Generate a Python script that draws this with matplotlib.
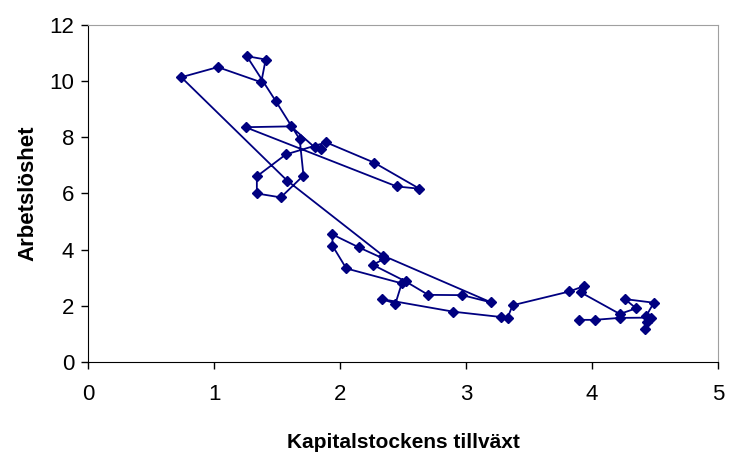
import matplotlib.pyplot as plt

plt.rcParams['font.family'] = ['Liberation Sans', 'DejaVu Sans']

# Kapitalstockens tillväxt (x) och arbetslöshet (y), i tidsordning
kapital = [3.90, 4.02, 4.22, 4.47, 4.44, 4.42, 4.43, 4.49, 4.26, 4.35,
           4.22, 3.91, 3.94, 3.82, 3.37, 3.33, 3.28, 2.90, 2.33, 2.44,
           2.49, 2.05, 1.94, 1.94, 2.15, 2.35, 2.26, 2.52, 2.70, 2.97,
           3.20, 2.34, 1.58, 0.74, 1.03, 1.375, 1.41, 1.26, 1.49, 1.68,
           1.71, 1.53, 1.34, 1.34, 1.57, 1.89, 2.27, 2.63, 2.45, 1.25,
           1.61, 1.80, 1.85]
arbetsloshet = [1.50, 1.50, 1.57, 1.58, 1.43, 1.17, 1.64, 2.11, 2.24, 1.91,
                1.71, 2.48, 2.71, 2.51, 2.02, 1.58, 1.60, 1.79, 2.24, 2.08,
                2.80, 3.33, 4.14, 4.54, 4.08, 3.67, 3.46, 2.87, 2.39, 2.38,
                2.12, 3.79, 6.46, 10.14, 10.50, 9.96, 10.77, 10.89, 9.29, 7.93,
                6.64, 5.86, 6.00, 6.61, 7.39, 7.82, 7.10, 6.17, 6.25, 8.36,
                8.39, 7.64, 7.57]

fig = plt.figure(figsize=(7.29, 4.61), dpi=100)
ax = fig.add_axes([0.1207, 0.2148, 0.8643, 0.7310])

ax.plot(kapital, arbetsloshet, color='#000080', linewidth=1.3,
        marker='D', markersize=5, markerfacecolor='#000080',
        markeredgecolor='#000080')

ax.set_xlim(0, 5)
ax.set_ylim(0, 12)
ax.set_xticks([0, 1, 2, 3, 4, 5])
ax.set_yticks([0, 2, 4, 6, 8, 10, 12])
ax.tick_params(direction='out', length=5, width=1, labelsize=16, pad=11)
ax.tick_params(axis='y', pad=5)

for s in ['top', 'right']:
    ax.spines[s].set_color('#a0a0a0')
for s in ['left', 'bottom']:
    ax.spines[s].set_color('black')

ax.set_xlabel('Kapitalstockens tillväxt', fontsize=15, fontweight='bold', labelpad=20)
ax.set_ylabel('Arbetslöshet', fontsize=16, fontweight='bold', labelpad=8)

fig.savefig('out.png', dpi=100)
